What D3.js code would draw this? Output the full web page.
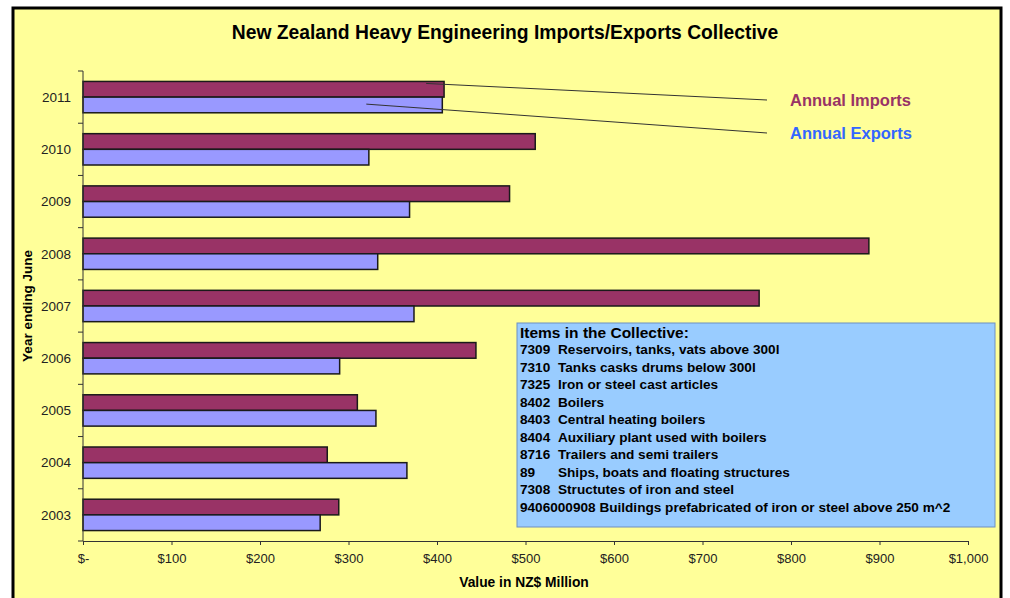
<!DOCTYPE html>
<html>
<head>
<meta charset="utf-8">
<script src="https://cdn.jsdelivr.net/npm/d3@7"></script>
<style>
  body { margin: 0; background: #fff; }
  text { font-family: "Liberation Sans", Arial, sans-serif; }
</style>
</head>
<body>
<svg id="chart" width="1010" height="598"></svg>
<script>
// values, NZ$ million
const years = ['2011', '2010', '2009', '2008', '2007', '2006', '2005', '2004', '2003'];
const imports = [408, 511, 482, 888, 764, 444, 310, 276, 289];
const exports = [406, 323, 369, 333, 374, 290, 331, 366, 268];
const seriesNames = ['Annual Imports', 'Annual Exports'];
const xTicks = [0, 100, 200, 300, 400, 500, 600, 700, 800, 900, 1000];
const itemCodes = ['7309', '7310', '7325', '8402', '8403', '8404', '8716', '89', '7308'];
const itemNames = [
  'Reservoirs, tanks, vats above 300l',
  'Tanks casks drums below 300l',
  'Iron or steel cast articles',
  'Boilers',
  'Central heating boilers',
  'Auxiliary plant used with boilers',
  'Trailers and semi trailers',
  'Ships, boats and floating structures',
  'Structutes of iron and steel'
];
const lastItem = '9406000908 Buildings prefabricated of iron or steel above 250 m^2';

const svg = d3.select('#chart');
const colors = {imports: '#993366', exports: '#9999ff'};

// chart frame
svg.append('rect')
  .attr('x', 13).attr('y', 8)
  .attr('width', 988).attr('height', 600)
  .attr('fill', '#ffff99')
  .attr('stroke', '#000')
  .attr('stroke-width', 3);

svg.append('text')
  .attr('x', 505).attr('y', 39)
  .attr('text-anchor', 'middle')
  .style('font-size', '19.3px')
  .style('font-weight', 'bold')
  .text('New Zealand Heavy Engineering Imports/Exports Collective');

const plot = {left: 83, right: 968, top: 71, bottom: 541};

const x = d3.scaleLinear().domain([0, 1000]).range([plot.left, plot.right]);
const y = d3.scaleBand().domain(years)
  .range([plot.top, plot.bottom])
  .paddingInner(0.4).paddingOuter(0.2);
const ySub = d3.scaleBand().domain(['imports', 'exports']).range([0, y.bandwidth()]);

// bars
const rows = years.map((yr, i) => ({year: yr, imports: imports[i], exports: exports[i]}));
const groups = svg.selectAll('.yr').data(rows).enter()
  .append('g')
  .attr('class', 'yr')
  .attr('transform', d => `translate(0,${y(d.year)})`);

groups.selectAll('rect')
  .data(d => ['imports', 'exports'].map(k => ({key: k, value: d[k]})))
  .enter()
  .append('rect')
  .attr('x', x(0))
  .attr('y', d => ySub(d.key))
  .attr('width', d => x(d.value) - x(0))
  .attr('height', ySub.bandwidth())
  .attr('fill', d => colors[d.key])
  .attr('stroke', '#1a1a1a')
  .attr('stroke-width', 1.5);

// x axis
const xAxis = d3.axisBottom(x)
  .tickValues(xTicks)
  .tickSize(4)
  .tickFormat(d => d === 0 ? '$-' : '$' + d3.format(',')(d));
const gx = svg.append('g')
  .attr('transform', `translate(0,${plot.bottom})`)
  .call(xAxis);
gx.select('.domain').attr('stroke', '#333');
gx.selectAll('.tick line').attr('stroke', '#333');
gx.selectAll('.tick text')
  .attr('dy', '1.15em')
  .style('font-size', '13px')
  .style('font-family', '"Liberation Sans", Arial, sans-serif')
  .attr('fill', '#222');

// y axis: ticks sit between the categories
const gy = svg.append('g');
gy.append('line')
  .attr('x1', plot.left).attr('x2', plot.left)
  .attr('y1', plot.top).attr('y2', plot.bottom)
  .attr('stroke', '#333');
const boundaries = d3.range(years.length + 1).map(i => plot.top + i * y.step());
gy.selectAll('.ytick').data(boundaries).enter()
  .append('line')
  .attr('x1', plot.left - 5).attr('x2', plot.left)
  .attr('y1', d => d).attr('y2', d => d)
  .attr('stroke', '#333');
gy.selectAll('.ylab').data(years).enter()
  .append('text')
  .attr('x', plot.left - 12)
  .attr('y', d => y(d) + y.bandwidth() / 2)
  .attr('dy', '0.35em')
  .attr('text-anchor', 'end')
  .style('font-size', '13.5px')
  .attr('fill', '#222')
  .text(d => d);

// axis titles
svg.append('text')
  .attr('x', 524).attr('y', 587)
  .attr('text-anchor', 'middle')
  .style('font-size', '13.8px')
  .style('font-weight', 'bold')
  .text('Value in NZ$ Million');

svg.append('text')
  .attr('transform', 'translate(32,306) rotate(-90)')
  .attr('text-anchor', 'middle')
  .style('font-size', '13.5px')
  .style('font-weight', 'bold')
  .text('Year ending June');

// series labels with leader lines to the 2011 bars
const first = rows[0];
const labelX = 790;
const leaders = [
  {key: 'imports', name: seriesNames[0], fy: y(first.year) + 2, fx: x(first.imports) - 18, ty: 100, color: '#993366'},
  {key: 'exports', name: seriesNames[1], fy: y(first.year) + ySub('exports') + 7, fx: x(first.exports) - 76, ty: 133, color: '#3366ff'}
];
svg.selectAll('.leader').data(leaders).enter()
  .append('line')
  .attr('x1', d => d.fx).attr('y1', d => d.fy)
  .attr('x2', 767).attr('y2', d => d.ty)
  .attr('stroke', '#333')
  .attr('stroke-width', 1);
svg.selectAll('.serieslab').data(leaders).enter()
  .append('text')
  .attr('x', labelX)
  .attr('y', d => d.ty + 6)
  .style('font-size', '16.5px')
  .style('font-weight', 'bold')
  .attr('fill', d => d.color)
  .text(d => d.name);

// items box
const box = svg.append('g').attr('transform', 'translate(517,323)');
box.append('rect')
  .attr('width', 478).attr('height', 204)
  .attr('fill', '#99ccff')
  .attr('stroke', '#6f8fc0')
  .attr('stroke-width', 1);
box.append('text')
  .attr('x', 3).attr('y', 15)
  .style('font-size', '15.5px')
  .style('font-weight', 'bold')
  .text('Items in the Collective:');
const lineH = 17.5;
itemCodes.forEach((code, i) => {
  const ty = 31 + i * lineH;
  box.append('text')
    .attr('x', 3).attr('y', ty)
    .style('font-size', '13.6px')
    .style('font-weight', 'bold')
    .text(code);
  box.append('text')
    .attr('x', 41).attr('y', ty)
    .style('font-size', '13.6px')
    .style('font-weight', 'bold')
    .text(itemNames[i]);
});
box.append('text')
  .attr('x', 3).attr('y', 31 + itemCodes.length * lineH)
  .style('font-size', '13.6px')
  .style('font-weight', 'bold')
  .text(lastItem);
</script>
</body>
</html>
